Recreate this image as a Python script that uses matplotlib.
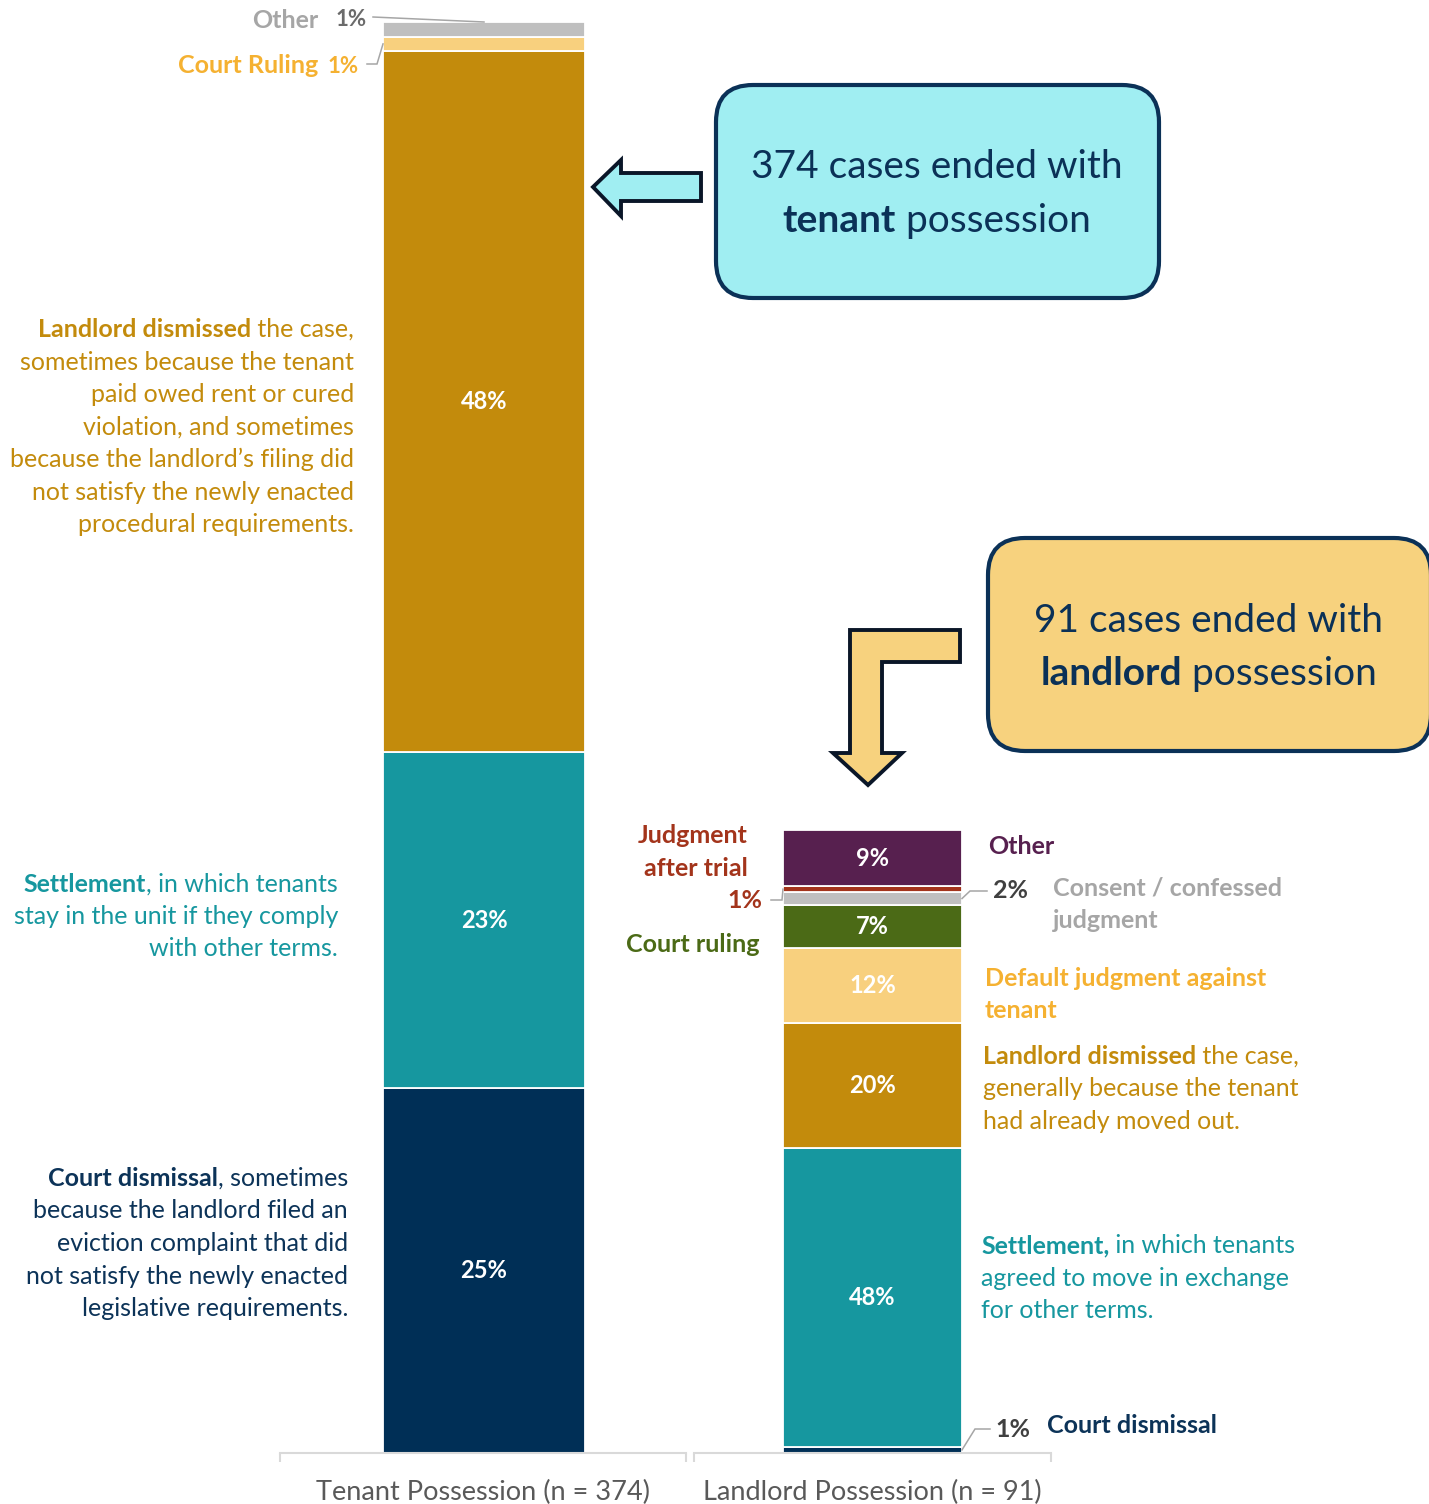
import matplotlib
matplotlib.use('Agg')
import matplotlib.pyplot as plt
from matplotlib.patches import FancyBboxPatch, Polygon
import numpy as np

W, H = 1429, 1504

# data (bottom to top)
tenant_cats = ['Court dismissal', 'Settlement', 'Landlord dismissed', 'Court ruling', 'Other']
tenant_pct = [25, 23, 48, 1, 1]
tenant_colors = ['#002F56', '#16979F', '#C38B0C', '#F8D07E', '#BFBFBF']

landlord_cats = ['Court dismissal', 'Settlement', 'Landlord dismissed',
                 'Default judgment against tenant', 'Court ruling',
                 'Consent / confessed judgment', 'Judgment after trial', 'Other']
landlord_pct = [1, 48, 20, 12, 7, 2, 1, 9]
landlord_colors = ['#002F56', '#16979F', '#C38B0C', '#F8D07E', '#4B6A16',
                   '#BFBFBF', '#A3341B', '#57204F']

group_labels = ['Tenant Possession (n = 374)', 'Landlord Possession (n = 91)']

NAVY = '#0C3358'
TEAL = '#16979F'
GOLD = '#C38B0C'
YEL = '#F5B131'
GRAY = '#A6A6A6'
DARK = '#404040'
GREEN = '#4B6A16'
RED = '#A3341B'
PURPLE = '#57204F'
LEADER = '#A6A6A6'

plt.rcParams['font.family'] = ['Lato', 'DejaVu Sans']

fig = plt.figure(figsize=(W / 100, H / 100), dpi=100)
renderer = fig.canvas.get_renderer()


def px_axes(l, t, r, b):
    return fig.add_axes([l / W, 1 - b / H, (r - l) / W, (b - t) / H])


ax1 = px_axes(280, 22, 686, 1453)
ax2 = px_axes(694, 830, 1051, 1453)


def stack(ax, vals, colors, xlim):
    vals = np.array(vals, dtype=float)
    bottoms = np.concatenate([[0], np.cumsum(vals)[:-1]])
    ax.bar([0] * len(vals), vals, width=1, bottom=bottoms, color=colors,
           edgecolor='white', linewidth=1.3)
    ax.set_xlim(*xlim)
    ax.set_ylim(0, vals.sum())
    for s in ('top', 'left', 'right'):
        ax.spines[s].set_visible(False)
    ax.spines['bottom'].set_color('#D9D9D9')
    ax.spines['bottom'].set_linewidth(1.5)
    ax.set_xticks(list(xlim))
    ax.tick_params(axis='x', direction='out', length=6.5, width=1.5,
                   color='#D9D9D9', labelbottom=False)
    ax.set_yticks([])
    ax.patch.set_alpha(0)
    for v, top in zip(vals, np.cumsum(vals)):
        if v >= 5:
            ax.text(0, top - v / 2, f'{int(v)}%', ha='center', va='center',
                    color='white', fontweight='bold', fontsize=17)


stack(ax1, tenant_pct, tenant_colors, (-1.01, 1.0))
stack(ax2, landlord_pct, landlord_colors, (-0.997, 0.997))

# overlay in pixel coordinates (y down)
ov = fig.add_axes([0, 0, 1, 1])
ov.set_xlim(0, W)
ov.set_ylim(H, 0)
ov.axis('off')


def to_px(ax, x, y):
    dx, dy = ax.transData.transform((x, y))
    return dx, H - dy


def seg_point(ax, vals, i, side):
    top = np.cumsum(vals)[i]
    mid = top - vals[i] / 2
    if side == 'top':
        return to_px(ax, 0, top)
    return to_px(ax, -0.5 if side == 'left' else 0.5, mid)


def runs_line(x, y, runs, color, size, ha='left'):
    arts = []
    for txt, bold in runs:
        arts.append(ov.text(0, y, txt, color=color, fontsize=size,
                            fontweight='bold' if bold else 'normal',
                            va='baseline', ha='left'))
    widths = [a.get_window_extent(renderer).width for a in arts]
    total = sum(widths)
    if ha == 'right':
        start = x - total
    elif ha == 'center':
        start = x - total / 2
    else:
        start = x
    for a, w in zip(arts, widths):
        a.set_x(start)
        start += w


def block(x, y0, lines, color, size, ha, step=32.5, bold=False):
    for k, ln in enumerate(lines):
        runs = ln if isinstance(ln, list) else [(ln, bold)]
        runs_line(x, y0 + k * step, runs, color, size, ha)


def leader(pts):
    xs, ys = zip(*pts)
    ov.plot(xs, ys, color=LEADER, lw=1.1, solid_joinstyle='miter')


DESC = 18
SMALL = 16

# category labels under each bar
for ax, lab in ((ax1, group_labels[0]), (ax2, group_labels[1])):
    cx = to_px(ax, sum(ax.get_xlim()) / 2, 0)[0]
    runs_line(cx, 1500, [(lab, False)], '#595959', 19.5, 'center')

# left side descriptions
block(354, 337, [[('Landlord dismissed', True), (' the case,', False)],
                 'sometimes because the tenant', 'paid owed rent or cured',
                 'violation, and sometimes', 'because the landlord\u2019s filing did',
                 'not satisfy the newly enacted', 'procedural requirements.'],
      GOLD, DESC, 'right')
block(338, 891.5, [[('Settlement', True), (', in which tenants', False)],
                   'stay in the unit if they comply', 'with other terms.'],
      TEAL, DESC, 'right')
block(348, 1186, [[('Court dismissal', True), (', sometimes', False)],
                  'because the landlord filed an', 'eviction complaint that did',
                  'not satisfy the newly enacted', 'legislative requirements.'],
      NAVY, DESC, 'right')

# left top small segments
runs_line(318, 28, [('Other', True)], GRAY, DESC, 'right')
runs_line(336, 26, [(f'{tenant_pct[4]}%', True)], '#6B6B6B', SMALL)
runs_line(318, 73, [('Court Ruling', True)], YEL, DESC, 'right')
runs_line(328, 73, [(f'{tenant_pct[3]}%', True)], YEL, SMALL)
leader([(373, 17), seg_point(ax1, tenant_pct, 4, 'top')])
leader([(367, 64), (377, 64), seg_point(ax1, tenant_pct, 3, 'left')])

# right side descriptions
runs_line(988, 854, [('Other', True)], PURPLE, DESC)
runs_line(993, 898, [(f'{landlord_pct[5]}%', True)], DARK, DESC)
leader([seg_point(ax2, landlord_pct, 5, 'right'), (970, 891), (987, 891)])
block(1053, 896, ['Consent / confessed', 'judgment'], GRAY, DESC, 'left', bold=True)
block(748, 843, ['Judgment', 'after trial'], RED, DESC, 'right', bold=True)
runs_line(762, 908, [(f'{landlord_pct[6]}%', True)], RED, DESC, 'right')
leader([(771, 900), (782, 900), seg_point(ax2, landlord_pct, 6, 'left')])
runs_line(760, 952, [('Court ruling', True)], GREEN, DESC, 'right')
block(985, 986, ['Default judgment against', 'tenant'], YEL, DESC, 'left', bold=True)
block(983, 1064, [[('Landlord dismissed', True), (' the case,', False)],
                  'generally because the tenant', 'had already moved out.'],
      GOLD, DESC, 'left')
block(981, 1253, [[('Settlement,', True), (' in which tenants', False)],
                  'agreed to move in exchange', 'for other terms.'],
      TEAL, DESC, 'left')
runs_line(995, 1437, [(f'{landlord_pct[0]}%', True)], DARK, DESC)
runs_line(1047, 1433, [('Court dismissal', True)], NAVY, DESC)
leader([seg_point(ax2, landlord_pct, 0, 'right'), (975, 1429), (990, 1429)])

# callout boxes
EDGE = '#0B3157'
ov.add_patch(FancyBboxPatch((716, 85), 443, 213,
                            boxstyle='round,pad=0,rounding_size=37',
                            fc='#A0EEF2', ec=EDGE, lw=3))
ov.add_patch(FancyBboxPatch((988, 538), 443, 213,
                            boxstyle='round,pad=0,rounding_size=37',
                            fc='#F7D27E', ec=EDGE, lw=3))
BOX = 28
runs_line(937, 178, [('374 cases ended with', False)], EDGE, BOX, 'center')
runs_line(937, 232, [('tenant', True), (' possession', False)], EDGE, BOX, 'center')
runs_line(1209, 632, [('91 cases ended with', False)], EDGE, BOX, 'center')
runs_line(1209, 685, [('landlord', True), (' possession', False)], EDGE, BOX, 'center')

# arrows
ARROW_EDGE = '#0A1628'
ov.add_patch(Polygon([(593, 187), (621, 160), (621, 173), (701, 173),
                      (701, 201), (621, 201), (621, 216)], closed=True,
                     fc='#A0EEF2', ec=ARROW_EDGE, lw=2.8, joinstyle='miter'))
ov.add_patch(Polygon([(850, 630), (960, 630), (960, 662), (882, 662),
                      (882, 753), (902, 753), (868, 785), (833, 753),
                      (850, 753)], closed=True,
                     fc='#F7D27E', ec=ARROW_EDGE, lw=2.8, joinstyle='miter'))

fig.savefig('out.png', dpi=100)
